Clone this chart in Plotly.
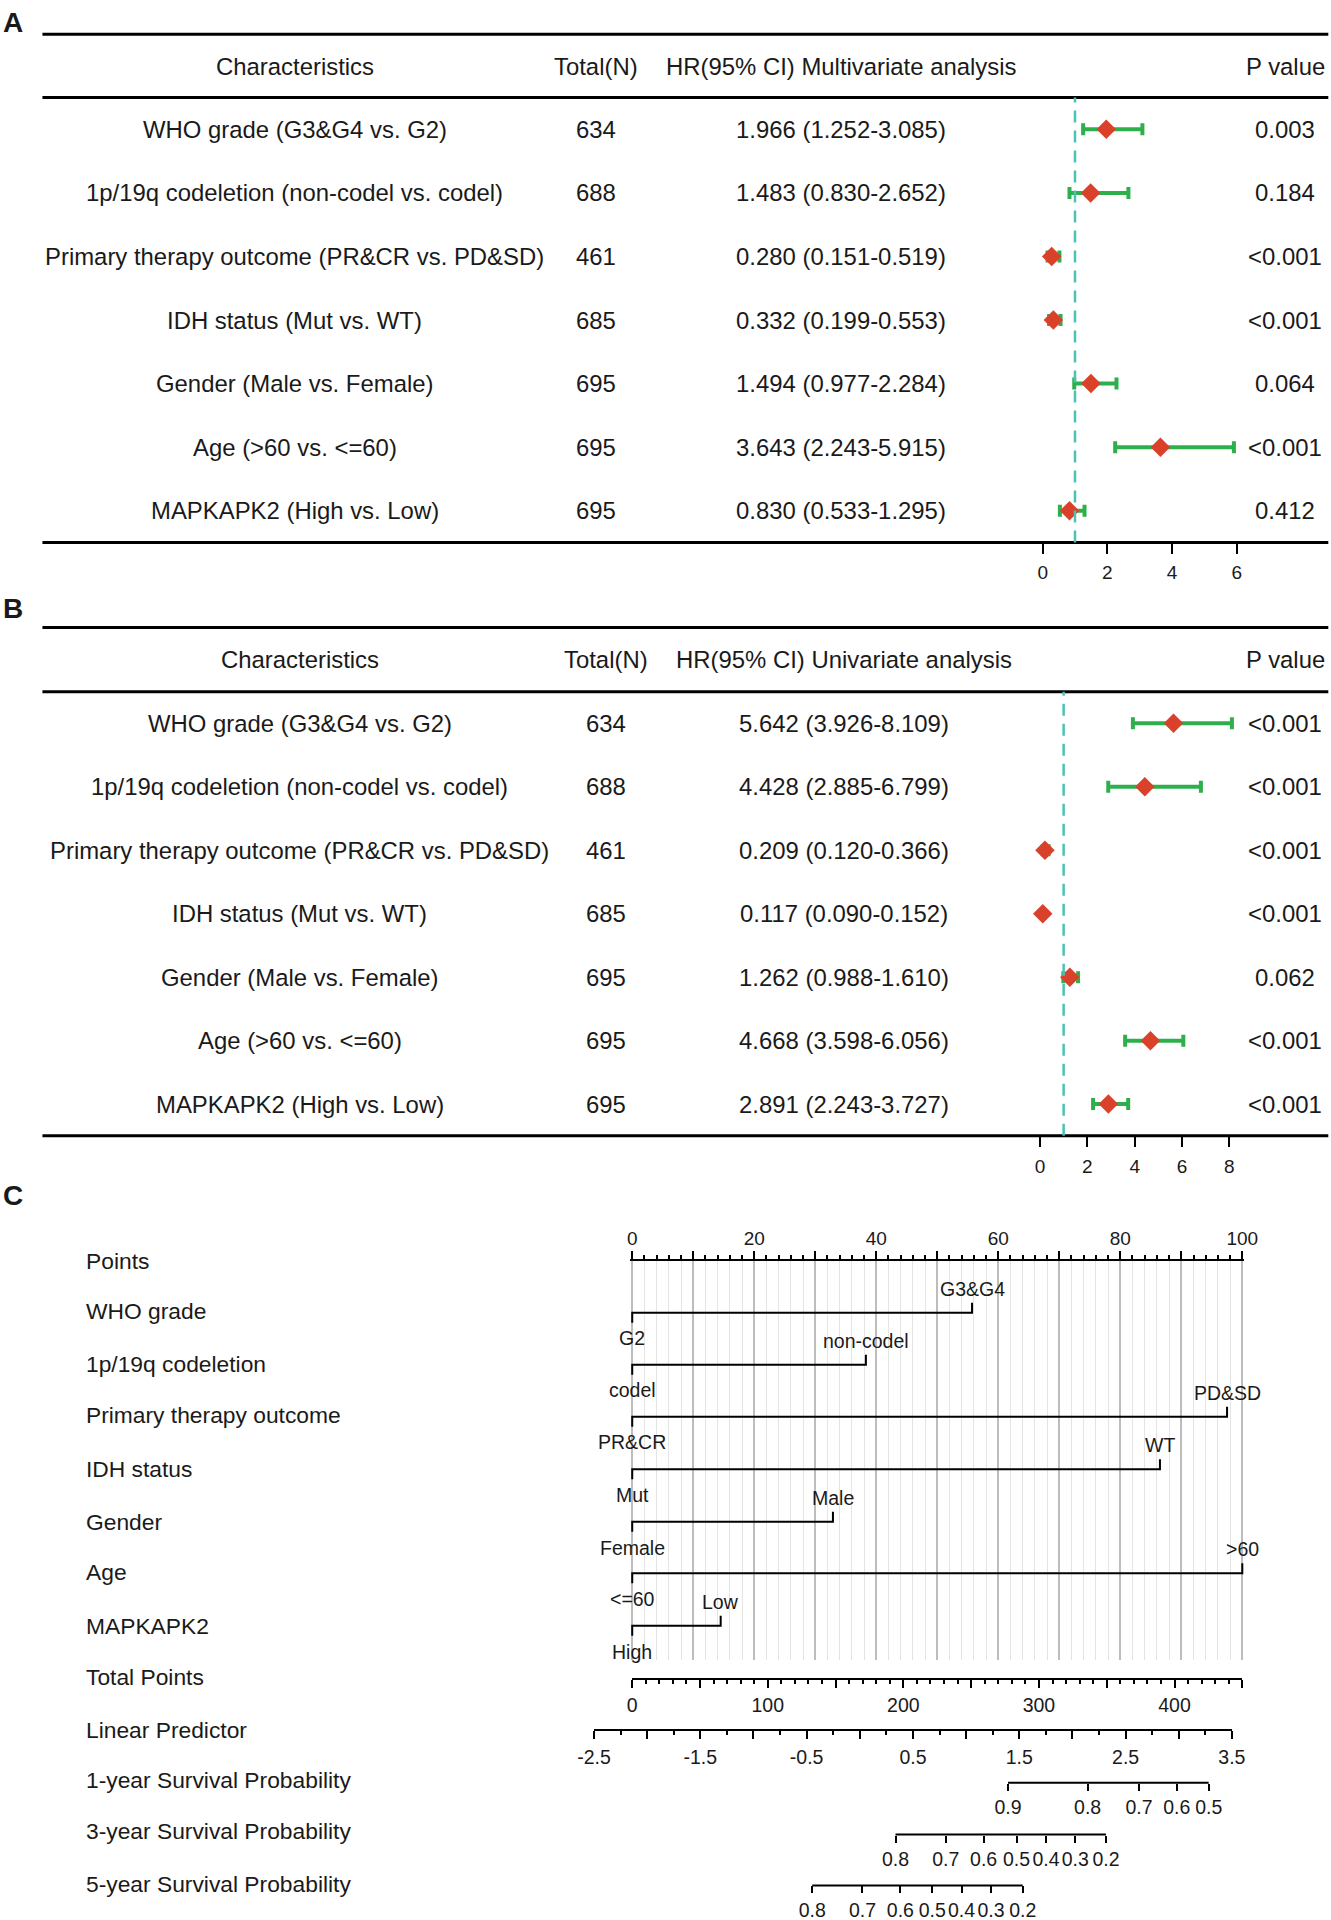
import plotly.graph_objects as go

# ---------------- data ----------------
characteristics = [
    "WHO grade (G3&G4 vs. G2)",
    "1p/19q codeletion (non-codel vs. codel)",
    "Primary therapy outcome (PR&CR vs. PD&SD)",
    "IDH status (Mut vs. WT)",
    "Gender (Male vs. Female)",
    "Age (>60 vs. <=60)",
    "MAPKAPK2 (High vs. Low)",
]
total_n = [634, 688, 461, 685, 695, 695, 695]

hr_multi = [1.966, 1.483, 0.280, 0.332, 1.494, 3.643, 0.830]
lo_multi = [1.252, 0.830, 0.151, 0.199, 0.977, 2.243, 0.533]
hi_multi = [3.085, 2.652, 0.519, 0.553, 2.284, 5.915, 1.295]
p_multi = ["0.003", "0.184", "<0.001", "<0.001", "0.064", "<0.001", "0.412"]

hr_uni = [5.642, 4.428, 0.209, 0.117, 1.262, 4.668, 2.891]
lo_uni = [3.926, 2.885, 0.120, 0.090, 0.988, 3.598, 2.243]
hi_uni = [8.109, 6.799, 0.366, 0.152, 1.610, 6.056, 3.727]
p_uni = ["<0.001", "<0.001", "<0.001", "<0.001", "0.062", "<0.001", "<0.001"]

forest_ticks_multi = [0, 2, 4, 6]
forest_ticks_uni = [0, 2, 4, 6, 8]

nomo_vars = ["WHO grade", "1p/19q codeletion", "Primary therapy outcome",
             "IDH status", "Gender", "Age", "MAPKAPK2"]
nomo_level_low = ["G2", "codel", "PR&CR", "Mut", "Female", "<=60", "High"]
nomo_level_high = ["G3&G4", "non-codel", "PD&SD", "WT", "Male", ">60", "Low"]
nomo_points_high = [55.7, 38.3, 97.5, 86.5, 32.9, 100.0, 14.5]

points_ticks = list(range(0, 101, 10))
total_ticks = list(range(0, 451, 50))
lp_ticks = [-2.5, -2.0, -1.5, -1.0, -0.5, 0.0, 0.5, 1.0, 1.5, 2.0, 2.5, 3.0, 3.5]

surv1_points = [277.2, 335.9, 373.8, 401.7, 425.2]
surv1_labels = ["0.9", "0.8", "0.7", "0.6", "0.5"]
surv3_points = [194.2, 231.2, 259.2, 283.5, 305.2, 326.8, 349.4]
surv3_labels = ["0.8", "0.7", "0.6", "0.5", "0.4", "0.3", "0.2"]
surv5_points = [132.8, 169.8, 197.8, 221.3, 242.9, 264.6, 288.0]
surv5_labels = ["0.8", "0.7", "0.6", "0.5", "0.4", "0.3", "0.2"]

# ---------------- layout helpers ----------------
W, H = 1331, 1920
S = W / 1088.0


def px(xd):
    return xd * S / W


def py(yd):
    return 1 - yd * S / H


def ay(yd):
    return yd * S


FONT = "Liberation Sans, Arial, sans-serif"
TXT = "#1a1a1a"
RED = "#D9412B"
GREEN = "#2DB04B"
TEAL = "#4CC2B6"
FS_MAIN = 23.9
FS_ROW = 22.8
FS_LEVEL = 19.5

fig = go.Figure()
ann = []
shapes = []


def text(x, y, t, size=FS_MAIN, xref="paper", yref="paper", xanchor="center", bold=False):
    ann.append(dict(x=x, y=y, xref=xref, yref=yref, text=("<b>%s</b>" % t) if bold else t,
                    showarrow=False, xanchor=xanchor, yanchor="middle",
                    font=dict(family=FONT, size=size, color=TXT)))


def hline(yd, x0=34.7, x1=1085.8, w=3):
    shapes.append(dict(type="line", xref="paper", yref="paper", x0=px(x0), x1=px(x1),
                       y0=py(yd), y1=py(yd), line=dict(color="black", width=w)))


# ---------------- forest panels ----------------
panels = [
    dict(ax="x", ay_="y", lay_x="xaxis", lay_y="yaxis", hr=hr_multi, lo=lo_multi, hi=hi_multi,
         p=p_multi, title="HR(95% CI) Multivariate analysis", letter="A", letter_y=18,
         top=28, head=54, r0=105.7, dy=51.97, zero=852.3, unit=26.43, ticks=forest_ticks_multi,
         c_char=241, c_tot=487, c_hr=687.5),
    dict(ax="x2", ay_="y2", lay_x="xaxis2", lay_y="yaxis2", hr=hr_uni, lo=lo_uni, hi=hi_uni,
         p=p_uni, title="HR(95% CI) Univariate analysis", letter="B", letter_y=497,
         top=513, head=539, r0=591.3, dy=51.87, zero=850.1, unit=19.35, ticks=forest_ticks_uni,
         c_char=245, c_tot=495, c_hr=690),
]

layout_axes = {}
for P in panels:
    n = len(P["hr"])
    rows = list(range(n))
    ytop = P["r0"] - P["dy"] / 2
    ybot = P["r0"] + (n - 0.5) * P["dy"]
    fig.add_trace(go.Scatter(
        x=P["hr"], y=rows, mode="markers", xaxis=P["ax"], yaxis=P["ay_"],
        marker=dict(symbol="diamond", size=15, color=RED, line=dict(width=0)),
        error_x=dict(type="data", symmetric=False,
                     array=[h - m for h, m in zip(P["hi"], P["hr"])],
                     arrayminus=[m - l for m, l in zip(P["hr"], P["lo"])],
                     color=GREEN, thickness=4, width=6),
        showlegend=False, hoverinfo="skip", cliponaxis=False))
    d0, d1 = 815, 1075
    layout_axes[P["lay_x"]] = dict(
        domain=[px(d0), px(d1)],
        range=[(d0 - P["zero"]) / P["unit"], (d1 - P["zero"]) / P["unit"]],
        anchor=P["ay_"], tickmode="array", tickvals=P["ticks"], ticks="outside",
        ticklen=10, tickwidth=2, tickcolor="black", showline=False, showgrid=False,
        zeroline=False, tickangle=0, ticklabelstandoff=3, automargin=False,
        tickfont=dict(family=FONT, size=19, color=TXT))
    layout_axes[P["lay_y"]] = dict(domain=[py(ybot), py(ytop)], range=[n - 0.5, -0.5],
                                   visible=False, anchor=P["ax"], automargin=False)
    # rules
    hline(P["top"])
    hline(ytop)
    hline(ybot)
    # dashed reference line at HR = 1
    shapes.append(dict(type="line", xref=P["ax"], yref=P["ay_"] + " domain", x0=1, x1=1,
                       y0=0, y1=1, line=dict(color=TEAL, width=2.5, dash="12px,8px")))
    # header
    text(px(1), py(P["letter_y"]), P["letter"], size=28, xanchor="left", bold=True)
    text(px(P["c_char"]), py(P["head"]), "Characteristics")
    text(px(P["c_tot"]), py(P["head"]), "Total(N)")
    text(px(P["c_hr"]), py(P["head"]), P["title"])
    text(px(1050.5), py(P["head"]), "P value")
    for i in rows:
        text(px(P["c_char"]), i, characteristics[i], yref=P["ay_"])
        text(px(P["c_tot"]), i, str(total_n[i]), yref=P["ay_"])
        text(px(P["c_hr"]), i, "%.3f (%.3f-%.3f)" % (P["hr"][i], P["lo"][i], P["hi"][i]),
             yref=P["ay_"])
        text(px(1050.5), i, P["p"][i], yref=P["ay_"])

# ---------------- nomogram (panel C) ----------------
text(px(1), py(977), "C", size=28, xanchor="left", bold=True)
X0, X1 = 516.8, 1015.5          # points 0 and 100 / total points 0 and 450
PAD = 0.3
unit_pts = (X1 - X0) / 100.0
grid_top, grid_bot = 1031.0, 1357.0

layout_axes["xaxis3"] = dict(
    domain=[px(X0 - PAD * unit_pts), px(X1 + PAD * unit_pts)], range=[-PAD, 100 + PAD],
    anchor="y3", side="top", tickmode="array", tickvals=points_ticks,
    ticktext=[str(v) if v % 20 == 0 else "" for v in points_ticks],
    ticks="outside", ticklen=8, tickwidth=2, tickcolor="black",
    showline=True, linewidth=2, linecolor="black", zeroline=False,
    showgrid=True, gridcolor="#BDBDBD", gridwidth=1.5, tickangle=0, ticklabelstandoff=-1,
    minor=dict(dtick=2, ticks="outside", ticklen=4, tickwidth=1.5, tickcolor="black",
               showgrid=True, gridcolor="#E4E4E4", gridwidth=1.2),
    automargin=False, tickfont=dict(family=FONT, size=19, color=TXT))
layout_axes["yaxis3"] = dict(domain=[py(grid_bot), py(grid_top)],
                             range=[ay(grid_bot), ay(grid_top)], visible=False, anchor="x3",
                             automargin=False)

row_y = {"Points": 1031, "WHO grade": 1072, "1p/19q codeletion": 1115,
         "Primary therapy outcome": 1157, "IDH status": 1201, "Gender": 1244, "Age": 1285,
         "MAPKAPK2": 1329, "Total Points": 1371, "Linear Predictor": 1414,
         "1-year Survival Probability": 1455, "3-year Survival Probability": 1497,
         "5-year Survival Probability": 1540}
for lab, yy in row_y.items():
    text(px(69), py(yy), lab, size=FS_ROW, xanchor="left")

var_line_y = [1073, 1115.5, 1158, 1201, 1244, 1286, 1329]
TL = 10  # tick length (px)
xs, ys = [], []
for i, v in enumerate(nomo_points_high):
    yl = ay(var_line_y[i])
    xs += [0, 0, v, v, None]
    ys += [yl + TL, yl, yl, yl - TL, None]
    text(0, yl + ay(21), nomo_level_low[i], size=FS_LEVEL, xref="x3", yref="y3")
    text(v, yl - ay(19.5), nomo_level_high[i], size=FS_LEVEL, xref="x3", yref="y3")
fig.add_trace(go.Scatter(x=xs, y=ys, mode="lines", xaxis="x3", yaxis="y3",
                         line=dict(color="black", width=2), showlegend=False,
                         hoverinfo="skip"))

# full-figure pixel y axis for the lower scales
layout_axes["yaxis4"] = dict(domain=[0, 1], range=[H, 0], visible=False, anchor="x4",
                             automargin=False)

common_bottom = dict(ticks="outside", tickwidth=2, tickcolor="black", zeroline=False,
                     showgrid=False, tickangle=0, automargin=False,
                     tickfont=dict(family=FONT, size=19.5, color=TXT))

layout_axes["xaxis4"] = dict(
    domain=[px(X0), px(X1)], range=[0, 450], anchor="free", position=py(1372.5),
    tickmode="array", tickvals=total_ticks,
    ticktext=[str(v) if v % 100 == 0 else "" for v in total_ticks], ticklen=8,
    showline=True, linewidth=2, linecolor="black", ticklabelstandoff=1,
    minor=dict(dtick=10, ticks="outside", ticklen=4, tickwidth=1.5, tickcolor="black"),
    **common_bottom)
layout_axes["xaxis5"] = dict(
    domain=[px(485.5), px(1007)], range=[-2.5, 3.5], anchor="free", position=py(1414.5),
    tickmode="array", tickvals=lp_ticks,
    ticktext=[("%g" % v) if (abs(v * 2) % 2 == 1) else "" for v in lp_ticks], ticklen=8,
    showline=True, linewidth=2, linecolor="black", ticklabelstandoff=1,
    minor=dict(dtick=0.25, ticks="outside", ticklen=4, tickwidth=1.5, tickcolor="black"),
    **common_bottom)

surv = [("xaxis6", "x6", surv1_points, surv1_labels, 1457.2),
        ("xaxis7", "x7", surv3_points, surv3_labels, 1499.6),
        ("xaxis8", "x8", surv5_points, surv5_labels, 1541.2)]
for lay, ax, pts, labs, yl in surv:
    layout_axes[lay] = dict(domain=[px(X0), px(X1)], range=[0, 450], anchor="free",
                            position=py(yl), tickmode="array", tickvals=pts, ticktext=labs,
                            ticklen=7, showline=False, ticklabelstandoff=0, **common_bottom)
    fig.add_trace(go.Scatter(x=[pts[0], pts[-1]], y=[ay(yl), ay(yl)], mode="lines",
                             xaxis=ax, yaxis="y4", line=dict(color="black", width=2),
                             showlegend=False, hoverinfo="skip"))

for ax in ["x4", "x5"]:
    fig.add_trace(go.Scatter(x=[None], y=[None], xaxis=ax, yaxis="y4", mode="markers",
                             showlegend=False, hoverinfo="skip"))

fig.update_layout(width=W, height=H,
                  margin=dict(l=0, r=0, t=0, b=0, pad=0, autoexpand=False), autosize=False,
                  paper_bgcolor="white", plot_bgcolor="rgba(0,0,0,0)",
                  annotations=ann, shapes=shapes, showlegend=False,
                  font=dict(family=FONT, color=TXT), **layout_axes)

fig.write_html(
    "out.html",
    config={"displayModeBar": False, "responsive": False},
    post_script=("document.documentElement.style.margin='0';"
                 "document.body.style.margin='0';"
                 "document.documentElement.style.overflow='hidden';"
                 "document.body.style.overflow='hidden';"),
)
